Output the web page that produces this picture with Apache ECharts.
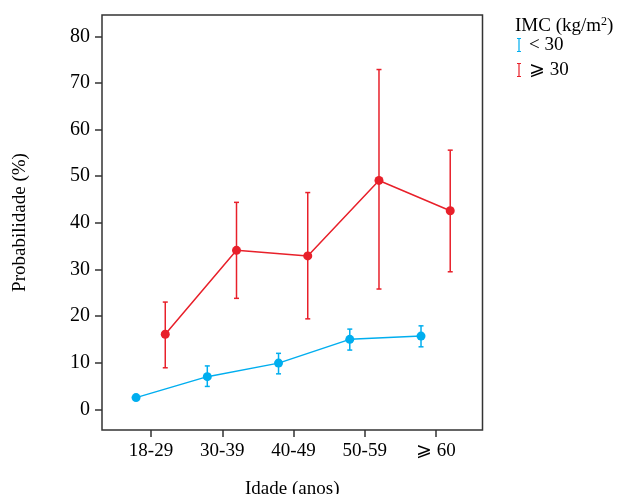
<!DOCTYPE html>
<html>
<head>
<meta charset="utf-8">
<script src="https://cdn.jsdelivr.net/npm/echarts@6/dist/echarts.min.js"></script>
<style>html,body{margin:0;padding:0;background:#fff}#c{width:619px;height:494px}</style>
</head>
<body>
<div id="c"></div>
<script>
const categories = ['18-29', '30-39', '40-49', '50-59', '\u2A7E 60'];
const yTicks = [0, 10, 20, 30, 40, 50, 60, 70, 80];
const seriesNames = ['< 30', '\u2A7E 30'];
const lowBmi = [2.5, 7.0, 9.9, 15.0, 15.7];
const lowBmiLower = [2.2, 4.9, 7.6, 12.7, 13.4];
const lowBmiUpper = [2.8, 9.3, 12.0, 17.2, 17.9];
const highBmi = [16.1, 34.1, 32.9, 49.1, 42.6];
const highBmiLower = [8.9, 23.8, 19.4, 25.8, 29.5];
const highBmiUpper = [23.0, 44.4, 46.5, 72.9, 55.6];

const BLUE = '#00AEEF';
const RED = '#E8202A';
const FONT = '"Liberation Serif", "DejaVu Serif", serif';
const dodge = [-0.21, 0.2];

function pts(vals, off) { return vals.map((v, i) => [i + 1 + off, v]); }
function errs(lo, hi, off) { return lo.map((l, i) => [i + 1 + off, l, hi[i]]); }

function errRender(color) {
  return function (params, api) {
    const x = api.value(0);
    const p1 = api.coord([x, api.value(1)]);
    const p2 = api.coord([x, api.value(2)]);
    const w = 2.5;
    const style = { stroke: color, lineWidth: 1.5, fill: null };
    return {
      type: 'group',
      children: [
        { type: 'line', shape: { x1: p1[0], y1: p1[1], x2: p2[0], y2: p2[1] }, style },
        { type: 'line', shape: { x1: p1[0] - w, y1: p1[1], x2: p1[0] + w, y2: p1[1] }, style },
        { type: 'line', shape: { x1: p2[0] - w, y1: p2[1], x2: p2[0] + w, y2: p2[1] }, style }
      ]
    };
  };
}

const iconPath = 'path://M0,0H4V1H2.6V13H4V14H0V13H1.4V1H0Z';

const chart = echarts.init(document.getElementById('c'), null, { renderer: 'canvas' });
chart.setOption({
  animation: false,
  textStyle: { fontFamily: FONT },
  title: {
    text: 'IMC (kg/m{sup|2})',
    left: 511, top: 13, padding: [3, 4],
    textStyle: {
      fontFamily: FONT, fontSize: 19, fontWeight: 'normal', color: '#000',
      rich: { sup: { fontFamily: FONT, fontSize: 12, verticalAlign: 'top', padding: [0, 0, 9, 0], color: '#000' } }
    }
  },
  legend: {
    orient: 'vertical', left: 512, top: 30.5,
    itemWidth: 4, itemHeight: 14, itemGap: 6,
    data: [
      { name: seriesNames[0], icon: iconPath },
      { name: seriesNames[1], icon: iconPath }
    ],
    textStyle: { fontFamily: FONT, fontSize: 19, color: '#000', padding: [0, 0, 0, 3] },
    selectedMode: false
  },
  grid: {
    left: 102, right: 136.5, top: 15, bottom: 64,
    outerBoundsMode: 'none', containLabel: false,
    show: true, borderColor: '#333', borderWidth: 1.5, backgroundColor: 'transparent'
  },
  xAxis: {
    type: 'value', min: 0.312, max: 5.653,
    name: 'Idade (anos)', nameLocation: 'middle', nameGap: 50,
    nameTextStyle: { fontFamily: FONT, fontSize: 19, color: '#000' },
    axisLine: { show: false, onZero: false },
    axisTick: { show: true, customValues: [1, 2, 3, 4, 5], length: 7, lineStyle: { color: '#333', width: 1.5 } },
    axisLabel: {
      customValues: [1, 2, 3, 4, 5], margin: 12,
      formatter: v => categories[Math.round(v) - 1],
      fontFamily: FONT, fontSize: 19, color: '#000'
    },
    splitLine: { show: false }
  },
  yAxis: {
    type: 'value', min: -4.45, max: 84.6,
    name: 'Probabilidade (%)', nameLocation: 'middle', nameGap: 72,
    nameTextStyle: { fontFamily: FONT, fontSize: 19, color: '#000' },
    axisLine: { show: false, onZero: false },
    axisTick: { show: true, customValues: yTicks, length: 7, lineStyle: { color: '#333', width: 1.5 } },
    axisLabel: { customValues: yTicks, margin: 12, fontFamily: FONT, fontSize: 20, color: '#000' },
    splitLine: { show: false }
  },
  series: [
    {
      name: seriesNames[0], type: 'line', data: pts(lowBmi, dodge[0]),
      color: BLUE, lineStyle: { width: 1.5, color: BLUE },
      symbol: 'circle', symbolSize: 9, itemStyle: { color: BLUE }, z: 3
    },
    {
      name: seriesNames[1], type: 'line', data: pts(highBmi, dodge[1]),
      color: RED, lineStyle: { width: 1.5, color: RED },
      symbol: 'circle', symbolSize: 9, itemStyle: { color: RED }, z: 3
    },
    {
      type: 'custom', renderItem: errRender(BLUE), data: errs(lowBmiLower, lowBmiUpper, dodge[0]),
      encode: { x: 0, y: [1, 2] }, z: 2, silent: true
    },
    {
      type: 'custom', renderItem: errRender(RED), data: errs(highBmiLower, highBmiUpper, dodge[1]),
      encode: { x: 0, y: [1, 2] }, z: 2, silent: true
    }
  ]
});
</script>
</body>
</html>
